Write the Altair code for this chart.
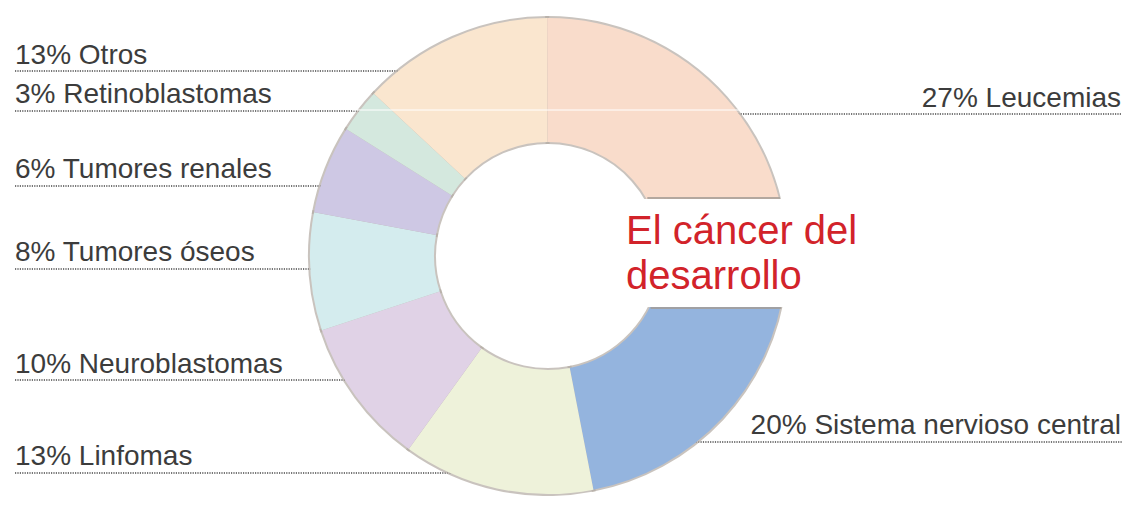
import math
import altair as alt
import pandas as pd

# ---- data (clockwise from the lower end of the "C") ----
categories = ["Sistema nervioso central", "Linfomas", "Neuroblastomas", "Tumores óseos",
              "Tumores renales", "Retinoblastomas", "Otros", "Leucemias"]
values = [20, 13, 10, 8, 6, 3, 13, 27]

# ---- styles ----
colors = ["#94b4de", "#eef2da", "#e0d2e6", "#d4ecee", "#cec8e4", "#d4e8de", "#fae6cf", "#f9dccb"]

# ---- layout (page pixels) ----
OFF = 8
CX, CY, R_OUT, R_IN = 548, 256, 238, 114
START_DEG = 97
GAP_TOP, GAP_BOTTOM = 198, 308
label_side = ["right", "left", "left", "left", "left", "left", "left", "right"]
label_baseline = [434, 465, 373, 261, 178, 103, 64, 107]
leader_y = [442, 473, 380, 269, 186, 111, 71, 114]
LEFT_X, RIGHT_X = 15, 1121
FONT = "Liberation Sans"


def ring_half(y, r):
    d = y - CY
    return math.sqrt(max(r * r - d * d, 0.0))


rows = []
for i, (c, v) in enumerate(zip(categories, values)):
    side = label_side[i]
    ly = leader_y[i]
    if side == "left":
        tx = LEFT_X
        x1, x2 = LEFT_X, CX - ring_half(ly, R_OUT) + 20
    else:
        tx = RIGHT_X
        x1, x2 = CX + ring_half(ly, R_OUT) - 20, RIGHT_X + 1
    rows.append(dict(category=c, value=v, idx=i, label=f"{v}% {c}", side=side,
                     tx=tx - OFF, ty=label_baseline[i] - OFF,
                     lx1=x1 - OFF, lx2=x2 - OFF, ly=ly - OFF))
df = pd.DataFrame(rows)

base = alt.Chart(df)

theta = alt.Theta("value:Q", stack=True,
                  scale=alt.Scale(range=[math.radians(START_DEG), math.radians(START_DEG) + 2 * math.pi]))
center = dict(x=alt.value(CX - OFF), y=alt.value(CY - OFF))

leaders = base.mark_rule(color="#4a4a4a", strokeWidth=1.6, strokeDash=[1.2, 1.2]).encode(
    x=alt.X("lx1:Q", scale=None), x2="lx2:Q", y=alt.Y("ly:Q", scale=None))

shadow = base.mark_arc(innerRadius=R_IN, outerRadius=R_OUT, fill="#b3aba3",
                       stroke="#b3aba3", strokeWidth=4, opacity=0.7).encode(
    theta=theta, order=alt.Order("idx:Q"), **center)

segments = base.mark_arc(innerRadius=R_IN, outerRadius=R_OUT).encode(
    theta=theta, order=alt.Order("idx:Q"),
    color=alt.Color("category:N", scale=alt.Scale(domain=categories, range=colors), legend=None),
    **center)

mask = alt.Chart(pd.DataFrame({"m": [0]})).mark_rect(color="white").encode(
    x=alt.value(CX - OFF), x2=alt.value(CX + R_OUT + 10 - OFF),
    y=alt.value(GAP_TOP + 1 - OFF), y2=alt.value(GAP_BOTTOM - 1 - OFF))

edge_rows = []
for gy in (GAP_TOP, GAP_BOTTOM):
    edge_rows.append(dict(x1=CX + ring_half(gy, R_IN + 1) - OFF, x2=CX + ring_half(gy, R_OUT + 1) - OFF,
                          y=gy - OFF))
edges = alt.Chart(pd.DataFrame(edge_rows)).mark_rule(color="#a39b93", strokeWidth=2, opacity=0.8).encode(
    x=alt.X("x1:Q", scale=None), x2="x2:Q", y=alt.Y("y:Q", scale=None))

streak = alt.Chart(pd.DataFrame({"m": [0]})).mark_rule(color="white", strokeWidth=1).encode(
    x=alt.value(352 - OFF), x2=alt.value(790 - OFF), y=alt.value(110 - OFF))

labels_left = base.transform_filter(alt.datum.side == "left").mark_text(
    align="left", baseline="alphabetic", font=FONT, fontSize=28, color="#3c3c3c").encode(
    x=alt.X("tx:Q", scale=None), y=alt.Y("ty:Q", scale=None), text="label:N")

labels_right = base.transform_filter(alt.datum.side == "right").mark_text(
    align="right", baseline="alphabetic", font=FONT, fontSize=28, color="#3c3c3c").encode(
    x=alt.X("tx:Q", scale=None), y=alt.Y("ty:Q", scale=None), text="label:N")

title = alt.Chart(pd.DataFrame({"m": [0]})).mark_text(
    align="left", baseline="alphabetic", font=FONT, fontSize=40, lineHeight=45, color="#d2232a").encode(
    x=alt.value(626 - OFF), y=alt.value(244 - OFF), text=alt.value(["El cáncer del", "desarrollo"]))

chart = alt.layer(leaders, shadow, segments, mask, edges, streak, labels_left, labels_right, title).properties(
    width=1116, height=488, padding=0, autosize=alt.AutoSizeParams(type="none")
).configure_view(stroke=None)

chart.save("out.html", embed_options={"renderer": "svg", "actions": False})
